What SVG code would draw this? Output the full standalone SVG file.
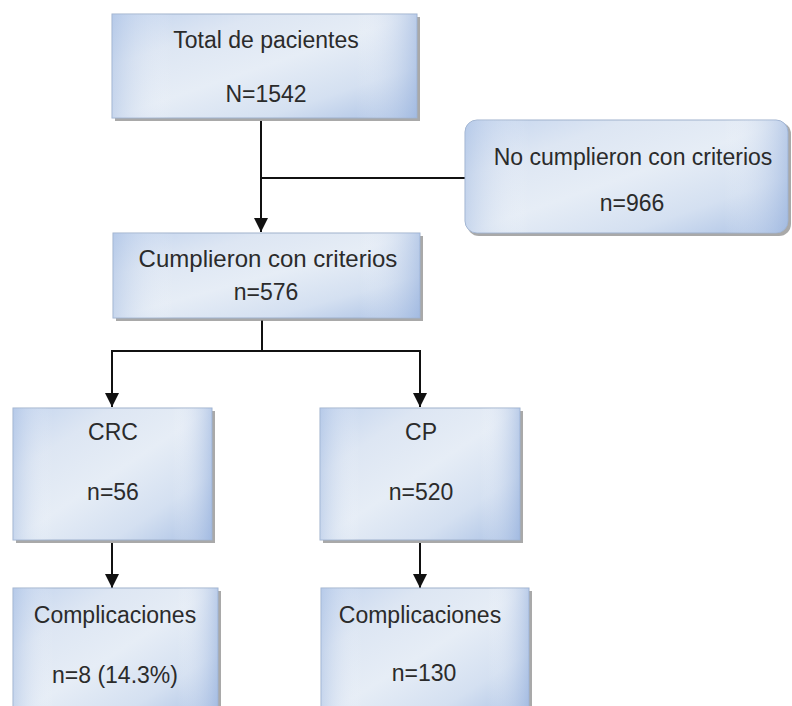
<svg xmlns="http://www.w3.org/2000/svg" width="792" height="706" viewBox="0 0 792 706">
<defs>
<linearGradient id="g" x1="0" y1="0" x2="1" y2="1">
<stop offset="0" stop-color="#c3d4ee"/>
<stop offset="0.25" stop-color="#dde6f3"/>
<stop offset="0.5" stop-color="#e6edf6"/>
<stop offset="0.75" stop-color="#d4e0f1"/>
<stop offset="1" stop-color="#a9c0e4"/>
</linearGradient>
<linearGradient id="g2" x1="0" y1="0" x2="1" y2="0">
<stop offset="0" stop-color="#a8bfe3" stop-opacity="0.5"/>
<stop offset="0.2" stop-color="#ffffff" stop-opacity="0"/>
<stop offset="0.8" stop-color="#ffffff" stop-opacity="0"/>
<stop offset="1" stop-color="#9db6df" stop-opacity="0.6"/>
</linearGradient>
<marker id="arr" viewBox="0 0 10 10" refX="10" refY="5" markerWidth="7" markerHeight="7" orient="auto" markerUnits="strokeWidth">
<path d="M0,0 L10,5 L0,10 z" fill="#111"/>
</marker>
<style>
.box{fill:url(#g);stroke:#9fb1cc;stroke-width:1}
.ov{fill:url(#g2)}
.sh{fill:#8c8c8c;opacity:0.75}
text{font-family:"Liberation Sans",Arial,sans-serif;font-size:23px;fill:#2b2b2b;text-anchor:middle}
.c{fill:none;stroke:#111;stroke-width:2}
</style>
</defs>
<rect width="792" height="706" fill="#ffffff"/>

<g id="connectors">
<path class="c" d="M261,121 V232" marker-end="url(#arr)"/>
<path class="c" d="M261,178 H466"/>
<path class="c" d="M262,320 V351 H112 V407" marker-end="url(#arr)"/>
<path class="c" d="M262,351 H420 V407" marker-end="url(#arr)"/>
<path class="c" d="M112,543 V588" marker-end="url(#arr)"/>
<path class="c" d="M420,543 V588" marker-end="url(#arr)"/>
</g>

<g id="total">
<rect class="sh" x="115" y="17" width="305" height="104"/>
<rect class="box" x="112" y="14" width="305" height="104"/>
<rect class="ov" x="112" y="14" width="305" height="104"/>
<text x="266" y="48">Total de pacientes</text>
<text x="266" y="102">N=1542</text>
</g>

<g id="no-cumplieron">
<rect class="sh" x="467" y="122" width="324" height="114" rx="12"/>
<rect class="box" x="465" y="120" width="323" height="113" rx="12"/>
<rect class="ov" x="465" y="120" width="323" height="113" rx="12"/>
<text x="633" y="165">No cumplieron con criterios</text>
<text x="632" y="211">n=966</text>
</g>

<g id="cumplieron">
<rect class="sh" x="116" y="236" width="307" height="85"/>
<rect class="box" x="113" y="233" width="307" height="85"/>
<rect class="ov" x="113" y="233" width="307" height="85"/>
<text x="268" y="267" style="font-size:24px">Cumplieron con criterios</text>
<text x="266" y="300">n=576</text>
</g>

<g id="crc">
<rect class="sh" x="16" y="411" width="199" height="132"/>
<rect class="box" x="13" y="408" width="199" height="132"/>
<rect class="ov" x="13" y="408" width="199" height="132"/>
<text x="113" y="440">CRC</text>
<text x="113" y="500">n=56</text>
</g>

<g id="cp">
<rect class="sh" x="323" y="411" width="200" height="132"/>
<rect class="box" x="320" y="408" width="200" height="132"/>
<rect class="ov" x="320" y="408" width="200" height="132"/>
<text x="421" y="440">CP</text>
<text x="421" y="500">n=520</text>
</g>

<g id="comp-crc">
<rect class="sh" x="16" y="591" width="205" height="130"/>
<rect class="box" x="13" y="588" width="205" height="130"/>
<rect class="ov" x="13" y="588" width="205" height="130"/>
<text x="115" y="623">Complicaciones</text>
<text x="115" y="683">n=8 (14.3%)</text>
</g>

<g id="comp-cp">
<rect class="sh" x="324" y="591" width="208" height="130"/>
<rect class="box" x="321" y="588" width="208" height="130"/>
<rect class="ov" x="321" y="588" width="208" height="130"/>
<text x="420" y="623">Complicaciones</text>
<text x="424" y="681">n=130</text>
</g>
</svg>
